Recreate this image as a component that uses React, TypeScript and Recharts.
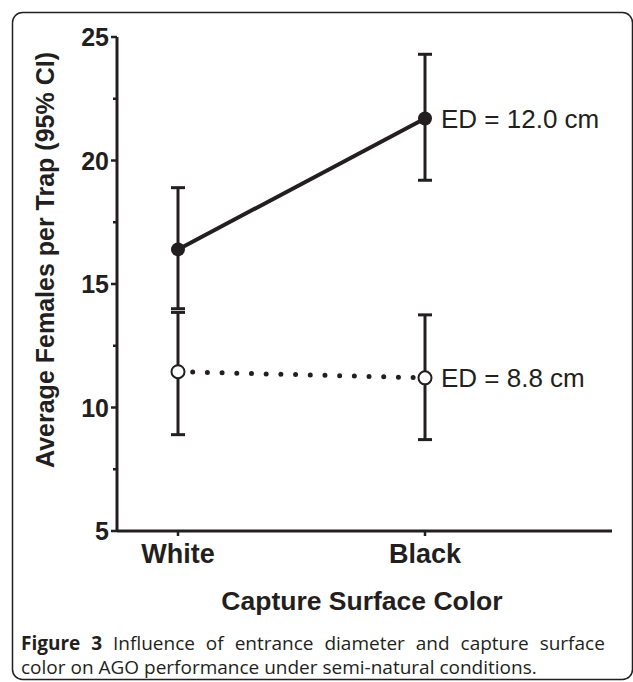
import React from 'react';
import { ComposedChart, Line, XAxis, YAxis, ErrorBar, LabelList } from 'recharts';

// ---- data ----
const categories = ['White', 'Black'];
const seriesNames = ['ED = 12.0 cm', 'ED = 8.8 cm'];
const ed12Mean = [16.4, 21.7];
const ed12Lower = [14.0, 19.2];
const ed12Upper = [18.9, 24.3];
const ed88Mean = [11.45, 11.2];
const ed88Lower = [8.9, 8.7];
const ed88Upper = [13.85, 13.75];
const yTicks = [5, 7.5, 10, 12.5, 15, 17.5, 20, 22.5, 25];
const yMajorTicks = [5, 10, 15, 20, 25];
const yDomain = [5, 25];
const yAxisTitle = 'Average Females per Trap (95% CI)';
const xAxisTitle = 'Capture Surface Color';
const captionBold = 'Figure 3';
const captionLine1 = ' Influence of entrance diameter and capture surface';
const captionLine2 = 'color on AGO performance under semi-natural conditions.';

const last = categories.length - 1;
const data = categories.map((cat, i) => ({
  cat,
  ed12: ed12Mean[i],
  ed12Err: [ed12Mean[i] - ed12Lower[i], ed12Upper[i] - ed12Mean[i]],
  ed12Label: i === last ? seriesNames[0] : '',
  ed88: ed88Mean[i],
  ed88Err: [ed88Mean[i] - ed88Lower[i], ed88Upper[i] - ed88Mean[i]],
  ed88Label: i === last ? seriesNames[1] : '',
}));

const INK = '#231f20';
const CHART_FONT = '"Liberation Sans", Arial, sans-serif';
const CAPTION_FONT = '"Open Sans", sans-serif';

const YTick = (props: any) => {
  const { x, y, payload } = props;
  const major = yMajorTicks.includes(payload.value);
  return (
    <g>
      <line x1={x - (major ? 6 : 4)} x2={x} y1={y} y2={y} stroke={INK} strokeWidth={2.5} />
      {major && (
        <text
          x={x - 8}
          y={y}
          dy="0.36em"
          textAnchor="end"
          fontFamily={CHART_FONT}
          fontWeight="bold"
          fontSize={25}
          fill={INK}
        >
          {payload.value}
        </text>
      )}
    </g>
  );
};

const XTick = (props: any) => {
  const { x, y, payload } = props;
  return (
    <text
      x={x}
      y={y}
      dy="0.76em"
      textAnchor="middle"
      fontFamily={CHART_FONT}
      fontWeight="bold"
      fontSize={27}
      fill={INK}
    >
      {payload.value}
    </text>
  );
};

const SeriesLabel = (props: any) => {
  const x = props.x ?? props.viewBox?.x;
  const y = props.y ?? props.viewBox?.y;
  const value = props.value;
  if (!value || x == null || y == null) return null;
  return (
    <text
      x={x + 16}
      y={y}
      dy="0.36em"
      fontFamily={CHART_FONT}
      fontSize={26}
      fill={INK}
    >
      {value}
    </text>
  );
};

export default function App() {
  return (
    <div style={{ position: 'absolute', left: 0, top: 0, width: 633, height: 682, background: '#fff' }}>
      <div style={{ position: 'absolute', left: 0, top: 0 }}>
        <ComposedChart
          width={633}
          height={682}
          data={data}
          margin={{ top: 37, right: 21, left: 57, bottom: 111 }}
        >
          <XAxis
            dataKey="cat"
            scale="point"
            padding={{ left: 61, right: 187 }}
            axisLine={{ stroke: INK, strokeWidth: 3 }}
            tickLine={{ stroke: INK, strokeWidth: 2.5 }}
            tickSize={5}
            tickMargin={6}
            tick={<XTick />}
            height={40}
            interval={0}
          />
          <YAxis
            type="number"
            domain={yDomain}
            ticks={yTicks}
            interval={0}
            width={60}
            axisLine={{ stroke: INK, strokeWidth: 3 }}
            tickLine={false}
            tickSize={0}
            tickMargin={0}
            tick={<YTick />}
            allowDataOverflow
          />
          <Line
            dataKey="ed88"
            stroke={INK}
            strokeWidth={5}
            strokeDasharray="0 14.7"
            strokeLinecap="round"
            dot={{ r: 6.5, fill: '#fff', stroke: INK, strokeWidth: 2, strokeDasharray: '' }}
            activeDot={false}
            isAnimationActive={false}
          >
            <ErrorBar dataKey="ed88Err" direction="y" width={7} stroke={INK} strokeWidth={3} />
            <LabelList dataKey="ed88Label" content={<SeriesLabel />} />
          </Line>
          <Line
            dataKey="ed12"
            stroke={INK}
            strokeWidth={4}
            dot={{ r: 7, fill: INK, stroke: INK, strokeWidth: 0 }}
            activeDot={false}
            isAnimationActive={false}
          >
            <ErrorBar dataKey="ed12Err" direction="y" width={7} stroke={INK} strokeWidth={3} />
            <LabelList dataKey="ed12Label" content={<SeriesLabel />} />
          </Line>
        </ComposedChart>
      </div>
      <svg
        width={633}
        height={682}
        style={{ position: 'absolute', left: 0, top: 0, pointerEvents: 'none' }}
      >
        <rect x={12.5} y={12.5} width={620} height={667} rx={10} ry={10} fill="none" stroke={INK} strokeWidth={1.5} />
        <text
          transform="translate(45,260) rotate(-90)"
          textAnchor="middle"
          dy="0.36em"
          fontFamily={CHART_FONT}
          fontWeight="bold"
          fontSize={25}
          fill={INK}
        >
          {yAxisTitle}
        </text>
        <text
          x={362}
          y={600}
          dy="0.36em"
          textAnchor="middle"
          fontFamily={CHART_FONT}
          fontWeight="bold"
          fontSize={26.5}
          fill={INK}
        >
          {xAxisTitle}
        </text>
        <text x={21} y={650} fontFamily={CAPTION_FONT} fontSize={19} wordSpacing={6} fill={INK}>
          <tspan fontWeight="bold">{captionBold}</tspan>
          <tspan>{captionLine1}</tspan>
        </text>
        <text x={21} y={674} fontFamily={CAPTION_FONT} fontSize={19} fill={INK}>
          {captionLine2}
        </text>
      </svg>
    </div>
  );
}
